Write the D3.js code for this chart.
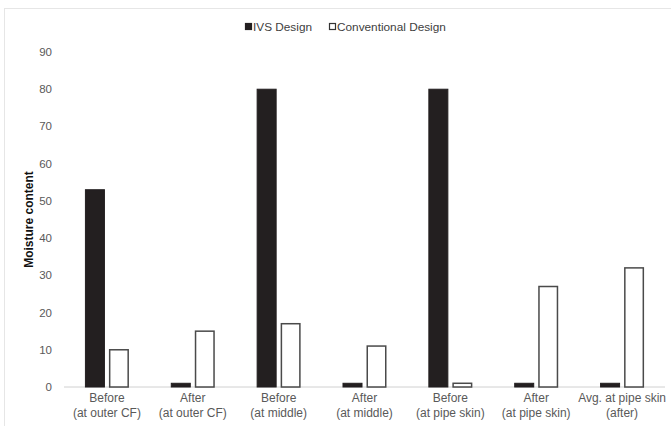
<!DOCTYPE html>
<html><head><meta charset="utf-8">
<script src="https://cdn.jsdelivr.net/npm/d3@7"></script>
<style>body{margin:0;background:#fff}svg{display:block;font-family:"Liberation Sans",Arial,sans-serif}</style>
</head><body>
<svg id="c" width="671" height="426"></svg>
<script>
const categories = [
  ["Before","(at outer CF)"],
  ["After","(at outer CF)"],
  ["Before","(at middle)"],
  ["After","(at middle)"],
  ["Before","(at pipe skin)"],
  ["After","(at pipe skin)"],
  ["Avg. at pipe skin","(after)"]
];
const ivs = [53, 1, 80, 1, 80, 1, 1];
const conventional = [10, 15, 17, 11, 1, 27, 32];
const seriesNames = ["IVS Design", "Conventional Design"];
const yTicks = [0,10,20,30,40,50,60,70,80,90];

const svg = d3.select("#c");
const W = 671, H = 426;
const m = {left:64, right:6, top:52, bottom:39};

// light chart border
svg.append("rect").attr("x",4.5).attr("y",8.5).attr("width",W-4).attr("height",H).attr("fill","none").attr("stroke","#e6e6e6");

const x = d3.scaleBand().domain(d3.range(categories.length)).range([m.left, W-m.right]);
const y = d3.scaleLinear().domain([0,90]).range([H-m.bottom, m.top]);
const barW = 20, gap = 4;

// y tick labels
svg.append("g").selectAll("text").data(yTicks).join("text")
  .attr("x", 52).attr("y", d=>y(d)).attr("dy","0.35em").attr("text-anchor","end")
  .attr("font-size",11.5).attr("fill","#595959").text(d=>d);

// baseline
svg.append("line").attr("x1",m.left).attr("x2",W-m.right).attr("y1",y(0)).attr("y2",y(0))
  .attr("stroke","#d0d0d0").attr("stroke-width",1);

const cx = i => x(i) + x.bandwidth()/2;

svg.append("g").selectAll("rect").data(ivs).join("rect")
  .attr("x",(d,i)=>cx(i)-gap/2-barW+0.5).attr("width",barW-1)
  .attr("y",d=>y(d)).attr("height",d=>y(0)-y(d))
  .attr("fill","#231f20").attr("stroke","#231f20").attr("stroke-width",1);

svg.append("g").selectAll("rect").data(conventional).join("rect")
  .attr("x",(d,i)=>cx(i)+gap/2+0.75).attr("width",barW-1.5)
  .attr("y",d=>y(d)).attr("height",d=>y(0)-y(d))
  .attr("fill","#fff").attr("stroke","#4a4a4a").attr("stroke-width",1.5);

// x labels
const xl = svg.append("g").selectAll("text").data(categories).join("text")
  .attr("text-anchor","middle").attr("font-size",12).attr("fill","#595959");
xl.each(function(d,i){
  const t = d3.select(this);
  d.forEach((line,k)=>{
    t.append("tspan").attr("x",cx(i)).attr("y",y(0)+15+k*15).text(line);
  });
});

// y axis title
svg.append("text").attr("transform",`translate(33,${(y(0)+y(90))/2}) rotate(-90)`)
  .attr("text-anchor","middle").attr("font-size",12).attr("font-weight","bold").attr("fill","#111")
  .text("Moisture content");

// legend
const lg = svg.append("g");
const items = [{name:seriesNames[0], x:245, fill:"#231f20", stroke:"#231f20"},
               {name:seriesNames[1], x:329, fill:"#fff", stroke:"#333"}];
items.forEach(it=>{
  lg.append("rect").attr("x",it.x+0.5).attr("y",23.5).attr("width",6).attr("height",6)
    .attr("fill",it.fill).attr("stroke",it.stroke).attr("stroke-width",1.2);
  lg.append("text").attr("x",it.x+8).attr("y",27).attr("dy","0.35em")
    .attr("font-size",11.8).attr("fill","#404040").text(it.name);
});
</script>
</body></html>
